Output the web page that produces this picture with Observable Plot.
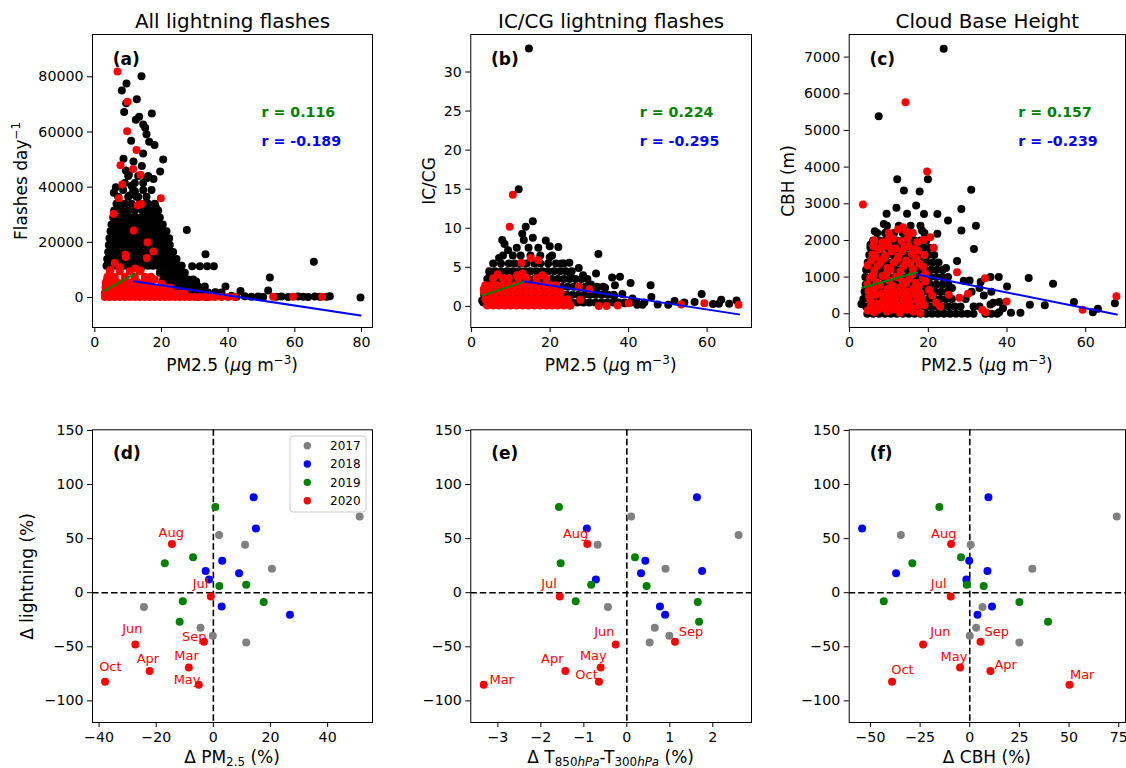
<!DOCTYPE html>
<html><head><meta charset="utf-8">
<script src="https://cdn.jsdelivr.net/npm/d3@7"></script>
<script src="https://cdn.jsdelivr.net/npm/@observablehq/plot@0.6"></script>
<style>
body{margin:0;background:#fff;}
#fig{position:relative;width:1126px;height:768px;overflow:hidden;background:#fff;}
#fig svg{position:absolute;}
</style></head><body><div id="fig"></div><script>
// ---------------- DATA ----------------
const titles = ["All lightning flashes", "IC/CG lightning flashes", "Cloud Base Height"];
const panelLetters = ["(a)", "(b)", "(c)", "(d)", "(e)", "(f)"];
const rPre = ["0.116", "0.224", "0.157"];
const rPost = ["-0.189", "-0.295", "-0.239"];

// (a) daily flashes vs PM2.5  [PM2.5, flashes/day]  (scattered points)
const aBlack = [[14.0,80200],[9.5,77600],[8.1,75000],[12.6,71900],[9.4,70400],[8.8,67200],[17.1,66700],[12.3,64400],[13.3,65500],[14.5,62700],[15.1,61500],[15.5,59200],[10.9,56800],[16.3,56500],[17.9,55300],[14.5,52200],[8.6,50300],[20.5,50000],[11.6,49300],[14.1,47700],[19.6,45700],[9.3,46000],[10.2,44500],[15.5,43200],[17.6,43000],[6.3,40000],[5.7,38000],[11.0,40500],[12.0,38500],[10.4,37000],[13.0,36500],[18.3,32700],[17.9,31500],[16.6,30000],[9.2,31000],[12.5,33000],[14.8,34000],[7.4,33500],[15.6,28500],[27.6,24500],[5.3,23700],[5.4,19000],[4.1,13800],
[22.0,17000],[22.8,16600],[21.2,14500],[23.5,13000],[24.5,10500],[26.0,11500],[25.2,8500],[20.0,16500],[3.3,4200],[3.8,7000],[4.5,8200],[19.0,28000],[21.5,19500],
[33.2,15700],[29.2,11300],[31.5,11300],[33.7,11300],[35.7,11300],[65.7,13000],[30.4,5800],[39.2,4000],[52.5,7250],[43.7,2400],[52.0,2500],[36.2,1900],[32.0,2500],[29.0,1500],[35.0,800],[38.0,1000],[41.0,600],[42.5,300],[45.0,500],[47.0,300],[49.0,400],[50.5,200],[54.5,300],[56.0,400],[58.0,200],[61.0,400],[62.5,300],[64.0,200],[66.0,400],[67.5,300],[69.5,300],[70.5,500],[79.7,0],[31.0,300],[33.5,200],[27.0,700],[25.5,1500],[23.0,2500]];
// (a) dense core, listed row by row: [flashes/day, PM2.5 values]
const aBlackRows = [
  [44000, [10.0,13.0,16.0]],
  [41500, [9.0,12.0,14.5]],
  [39000, [8.5,11.5,14.5,17.0]],
  [36500, [7.0,10.0,12.5,15.5]],
  [34000, [6.5,9.0,11.0,13.5,16.0,18.0]],
  [31500, [5.8,8.0,10.0,12.0,14.2,15.6,17.0,19.0]],
  [29000, [5.5,6.9,8.3,9.7,11.1,12.5,13.9,15.3,16.7,18.1,19.5]],
  [26500, [5.0,6.4,7.8,9.2,10.6,12.0,13.4,14.8,16.2,17.6,19.0,20.4]],
  [24000, [4.7,6.1,7.5,8.9,10.3,11.7,13.1,14.5,15.9,17.3,18.7,20.1,21.5]],
  [21500, [4.4,5.8,7.2,8.6,10.0,11.4,12.8,14.2,15.6,17.0,18.4,19.8,21.2,22.3]],
  [19000, [4.2,5.6,7.0,8.4,9.8,11.2,12.6,14.0,15.4,16.8,18.2,19.6,21.0,22.5]],
  [16500, [4.0,5.4,6.8,8.2,9.6,11.0,12.4,13.8,15.2,16.6,18.0,19.4,20.8,22.2,23.5]],
  [14000, [3.7,5.1,6.5,7.9,9.3,10.7,12.1,13.5,14.9,16.3,17.7,19.1,20.5,21.9,23.3,24.5]],
  [11500, [3.5,4.9,6.3,7.7,9.1,10.5,11.9,13.3,14.7,16.1,17.5,18.9,20.3,21.7,23.1,24.5,26.0]],
  [9000, [19.5,21.0,22.5,24.0,25.5,27.0]],
  [6500, [20.5,22.0,23.5,25.0,26.5,28.0,29.5]],
  [4000, [22.0,23.5,25.0,26.5,28.0,29.5,31.0,33.0]],
  [1800, [24.0,26.0,28.0,30.0,32.0,34.0,36.0,38.0]]
];
const aRed = [[6.8,81900],[9.8,71000],[9.7,60300],[12.5,53500],[7.7,47900],[11.5,46600],[13.7,44500],[8.2,41000],[7.2,36000],[19.8,36000],[13.9,33900],[12.9,33400],[5.7,30300],[11.7,24300],[15.8,20000],[17.6,16700],[9.2,15500],[9.3,14700],[15.6,14300],[12.1,10500],[4.7,10000],[13.7,9800],[6.0,12500],[7.5,11000],[16.8,7500],[18.0,6500],[20.0,5000],
[53.5,300],[59.5,300],[68.2,300]];
const aRedRows = [
  [9500, [4.5,7.5,10.5,13.5]],
  [7500, [3.8,6.0,9.0,12.0,15.0]],
  [5500, [3.3,4.8,6.8,8.8,10.8,12.8,14.8,16.8]],
  [3500, [3.2,4.7,6.2,7.7,9.2,10.7,12.2,13.7,15.2,16.7,18.2,19.7,21.2,22.7]],
  [1500, [3.0,4.5,6.0,7.5,9.0,10.5,12.0,13.5,15.0,16.5,18.0,19.5,21.0,22.5,24.0,25.5,27.0]],
  [200, [3.0,4.5,6.0,7.5,9.0,10.5,12.0,13.5,15.0,16.5,18.0,19.5,21.0,22.5,24.0,25.5,27.0,28.5,30.0,31.5,33.0,34.5,36.0,38.0,40.0,42.0]]
];
const aGreenFit = [[2.7,2284],[12.0,8590]];
const aBlueFit = [[11.8,5910],[79.7,-6525]];

// (b) IC/CG ratio vs PM2.5
const bBlack = [[14.6,33.0],[12.0,15.0],[15.6,10.9],[13.8,10.2],[12.9,9.3],[13.3,8.5],[15.6,8.8],[7.8,8.5],[8.4,8.0],[9.3,7.2],[18.9,8.45],[19.9,7.7],[22.1,7.6],[32.3,6.7],[7.0,6.2],[19.9,6.3],[24.9,5.6],[22.9,5.5],[27.3,4.9],[4.6,4.2],[25.2,3.9],[28.4,4.0],[31.7,4.2],[35.8,3.7],[37.8,3.8],[40.5,3.0],[45.6,2.7],[31.9,2.3],[30.4,2.8],[45.8,1.2],[38.4,1.6],[36.3,1.3],[58.6,1.6],[51.7,0.7],[54.2,0.5],[56.8,0.55],[61.5,0.3],[63.6,0.85],[63.0,0.35],[65.6,0.35],[67.5,0.75],[50.1,0.2],[47.4,0.25],[42.2,0.2],[43.5,0.2],[2.7,0.75],[36.5,2.7],[34.0,2.4],[39.0,0.4],[41.0,1.0]];
const bBlackRows = [
  [7.5, [11.5,14.5,17.0]],
  [6.5, [8.0,10.5,12.5,15.0,17.5,20.5]],
  [5.5, [5.5,7.5,9.5,11.0,12.5,14.0,16.0,17.5,19.5,21.5,23.5]],
  [4.5, [4.5,6.0,7.5,9.0,10.5,12.0,13.5,15.0,16.5,18.0,19.5,21.0,22.5,24.0,25.5]],
  [3.5, [4.0,5.5,7.0,8.5,10.0,11.5,13.0,14.5,16.0,17.5,19.0,20.5,22.0,23.5,25.0,26.5,28.0,29.5]],
  [2.5, [3.5,5.0,6.5,8.0,9.5,11.0,12.5,14.0,15.5,17.0,18.5,20.0,21.5,23.0,24.5,26.0,27.5,29.0,30.5,32.0,33.5]],
  [1.5, [3.2,4.7,6.2,7.7,9.2,10.7,12.2,13.7,15.2,16.7,18.2,19.7,21.2,22.7,24.2,25.7,27.2,28.7,30.2,31.7,33.2,34.7,36.2]],
  [0.5, [3.0,4.5,6.0,7.5,9.0,10.5,12.0,13.5,15.0,16.5,18.0,19.5,21.0,22.5,24.0,25.5,27.0,28.5,30.0,31.5,33.0,34.5,36.0,37.5,39.0,40.5,42.0,44.0]]
];
const bRed = [[10.5,14.3],[9.7,10.2],[15.1,6.2],[17.0,5.9],[12.7,5.6],[11.6,4.0],[6.7,4.1],[27.3,2.5],[27.7,0.85],[30.0,2.2],[25.2,0.1],[32.4,0.05],[34.4,0.05],[37.2,0.1],[40.0,0.4],[53.4,0.25],[59.3,0.4],[68.0,0.2],[3.1,2.2],[18.0,4.0],[13.0,4.2]];
const bRedRows = [
  [3.6, [5.5,8.0,9.5,12.0,14.0,16.5,19.0]],
  [2.7, [3.5,5.0,6.5,8.0,9.5,11.0,12.5,14.0,15.5,17.0,18.5,20.0,21.5]],
  [1.8, [3.2,4.7,6.2,7.7,9.2,10.7,12.2,13.7,15.2,16.7,18.2,19.7,21.2,22.7]],
  [0.9, [3.5,5.0,6.5,8.0,9.5,11.0,12.5,14.0,15.5,17.0,18.5,20.0,21.5,23.0,24.5]],
  [0.1, [4.0,5.5,7.0,8.5,10.0,11.5,13.0,14.5,16.0,17.5,19.0,20.5,22.0,23.5,25.0]]
];
const bGreenFit = [[2.9,1.41],[13.5,3.2]];
const bBlueFit = [[13.5,3.2],[68.1,-1.02]];

// (c) cloud base height vs PM2.5
const cBlack = [[23.9,7227],[7.4,5390],[12.1,3670],[19.9,3670],[13.8,3360],[17.8,3335],[30.9,3380],[16.9,2950],[11.9,2890],[28.4,2855],[9.4,2730],[18.9,2720],[22.3,2720],[14.6,2730],[25.0,2545],[32.1,2400],[28.4,2270],[6.4,2250],[8.7,2450],[22.3,2180],[18.4,2270],[31.6,1770],[5.3,1880],[27.3,1440],[37.9,1000],[35.8,1000],[45.5,975],[51.7,820],[40.0,745],[30.5,910],[33.3,865],[34.1,500],[57.0,320],[67.4,290],[63.1,136],[61.8,45],[43.4,27],[45.8,245],[49.6,236],[38.0,320],[38.0,45],[35.8,255],[3.0,270],[29.0,900],[31.0,600],[33.0,700],[36.0,600],[36.5,300],[39.0,150],[41.0,30],[24.5,1250],[26.0,700],[29.5,400]];
const cBlackRows = [
  [2400, [9.5,12.5,15.5,18.0]],
  [2200, [7.0,9.0,11.3,13.5,16.0,19.0]],
  [2000, [6.0,7.5,9.0,10.5,12.0,13.5,15.0,16.5,18.0,19.5]],
  [1800, [5.3,6.8,8.3,9.8,11.3,12.8,14.3,15.8,17.3,18.8,20.3]],
  [1600, [5.0,6.5,8.0,9.5,11.0,12.5,14.0,15.5,17.0,18.5,20.0,21.5]],
  [1400, [4.6,6.1,7.6,9.1,10.6,12.1,13.6,15.1,16.6,18.1,19.6,21.1,22.6]],
  [1200, [4.2,5.7,7.2,8.7,10.2,11.7,13.2,14.7,16.2,17.7,19.2,20.7,22.2,23.7]],
  [1000, [4.0,5.5,7.0,8.5,10.0,11.5,13.0,14.5,16.0,17.5,19.0,20.5,22.0,23.5,25.0]],
  [800, [4.1,5.6,7.1,8.6,10.1,11.6,13.1,14.6,16.1,17.6,19.1,20.6,22.1,23.6,25.1]],
  [600, [3.8,5.3,6.8,8.3,9.8,11.3,12.8,14.3,15.8,17.3,18.8,20.3,21.8,23.3,24.8]],
  [400, [3.5,5.0,6.5,8.0,9.5,11.0,12.5,14.0,15.5,17.0,18.5,20.0,21.5,23.0,24.5,26.0]],
  [200, [4.2,5.7,7.2,8.7,10.2,11.7,13.2,14.7,16.2,17.7,19.2,20.7,22.2,23.7,25.2,26.7,28.2,31.5,33.0]],
  [0, [4.5,6.0,7.5,9.0,10.5,12.0,13.5,15.0,16.5,18.0,19.5,21.0,22.5,24.0,25.5,27.0,28.5,30.0,31.5,34.5,36.0,37.5]]
];
const cRed = [[14.2,5770],[3.4,2980],[19.7,3880],[13.6,2360],[14.4,2245],[9.8,2020],[20.5,2090],[21.4,1800],[27.3,1130],[34.4,970],[25.2,520],[27.9,435],[30.1,545],[39.9,335],[33.7,110],[34.6,45],[59.2,110],[67.8,480],[6.2,2000],[12.3,2300],[16.0,2200],[22.0,300],[23.0,200],[21.0,500],
[4.6,1320],[6.3,1180],[7.9,1420],[9.6,1250],[11.2,1390],[12.9,1150],[14.4,1450],[16.1,1220],[17.8,1360],[19.3,1100],
[5.2,980],[6.9,860],[8.4,1030],[10.1,900],[11.8,1010],[13.5,880],[15.2,960],[16.9,840],[18.6,1000],
[4.8,620],[6.4,700],[8.1,560],[9.7,680],[11.4,590],[13.0,720],[14.7,600],[16.3,690],[18.0,560],[20.2,650],
[5.3,360],[7.0,280],[8.6,420],[10.3,330],[12.0,250],[13.6,400],[15.3,300],[17.1,380],[19.0,240],
[4.6,90],[6.2,40],[7.8,150],[9.5,60],[11.1,120],[12.8,30],[14.5,110],[16.2,60],[18.0,20],
[5.8,1620],[7.4,1750],[9.0,1580],[10.7,1700],[12.4,1560],[14.0,1820],[15.8,1640],[17.4,1720],[19.0,1600],[8.3,1950],[11.0,2050],[13.2,1980],[18.8,2010],
[5.5,1450],[7.1,1300],[8.7,1500],[10.4,1200],[12.1,1480],[13.7,1300],[15.4,1380],[17.0,1500],[18.7,1280],
[4.5,800],[6.0,1050],[7.7,780],[9.3,1080],[11.0,760],[12.6,1000],[14.3,820],[16.0,1080],[17.6,760],[19.3,880],
[5.0,470],[6.6,520],[8.3,300],[9.9,500],[11.6,420],[13.3,540],[15.0,450],[16.7,520],[18.4,420],
[5.4,200],[7.1,100],[8.9,230],[10.6,150],[12.3,180],[14.0,220],[15.8,160],[17.5,230],
[6.6,1550],[8.2,1800],[9.9,1850],[11.7,1780],[13.4,1700],[15.0,1850],[16.6,1760],[6.0,1850],[10.0,2200],[14.8,2050],[17.2,1950]];
const cGreenFit = [[3.2,709],[17.2,1134]];
const cBlueFit = [[17.2,1072],[67.9,-19]];

// (d)-(f) monthly anomalies (%), Mar..Oct
const years = ["2017", "2018", "2019", "2020"];
const yearColors = ["gray", "blue", "green", "red"];
const months = ["Mar", "Apr", "May", "Jun", "Jul", "Aug", "Sep", "Oct"];
const dLightning = {
  "2017": [70.4, 53.4, 44.4, 22.2, -13.3, -32.4, -39.8, -46.0],
  "2018": [88.3, 59.3, 29.6, 20.1, 12.3, 17.9, -12.7, -20.4],
  "2019": [79.3, 32.7, 27.2, 6.2, 7.4, -8.0, -8.6, -26.9],
  "2020": [-85.2, -72.5, -69.1, -47.8, -3.4, 45.1, -45.4, -82.4]
};
const dPM = {
  "2017": [51.2, 2.0, 11.1, 20.5, -24.3, -4.5, -0.2, 11.5],
  "2018": [14.1, 14.9, 3.1, -2.7, -1.5, 9.0, 2.9, 26.8],
  "2019": [0.7, -7.1, -17.0, 2.1, 11.5, -10.7, 17.6, -11.8],
  "2020": [-5.1, -22.3, -8.6, -27.3, -0.9, -14.5, -3.3, -37.9]
};
const dT = {
  "2017": [0.10, 2.60, -0.68, 0.90, -0.44, 0.65, 0.99, 0.53],
  "2018": [1.63, -0.93, 0.43, 1.75, -0.72, 0.33, 0.77, 0.89],
  "2019": [-1.58, 0.19, -1.54, 0.46, -0.83, -1.19, 1.65, 1.68],
  "2020": [-3.33, -1.43, -0.61, -0.26, -1.56, -0.92, 1.12, -0.65]
};
const dCBH = {
  "2017": [74.0, -34.7, 0.5, 31.5, 6.4, 3.2, 0.0, 25.0],
  "2018": [9.4, -54.2, -0.3, 8.9, -1.7, -37.1, 11.2, 3.9],
  "2019": [-15.3, -4.4, -28.9, 7.0, -1.5, -43.3, 25.0, 39.4],
  "2020": [50.2, 10.4, -4.9, -23.5, -9.6, -9.4, 5.4, -39.1]
};

// ---------------- LAYOUT / STYLE ----------------
const FONT = "DejaVu Sans";
const fmt = d => d < 0 ? "\u2212" + Math.abs(d) : String(d);
const fig = document.getElementById("fig");
const cols = [
  {left: 0, width: 376, mL: 92, mR: 4},
  {left: 376, width: 376, mL: 94.3, mR: 1},
  {left: 752, width: 374, mL: 96.7, mR: 1}
];
const rows = [{top: 0, height: 384, mT: 34, mB: 57}, {top: 384, height: 384, mT: 45.3, mB: 46}];
// month-label offsets (px) per bottom panel
const labelOffsets = [
  {Mar: [-12.3, -29], Apr: [-1.7, -12.7], May: [-1.7, 12.7], Jun: [-3, -15.7], Jul: [-10.3, -13], Aug: [-0.7, -11.3], Sep: [-9.7, -5.3], Oct: [5.3, -15.3]},
  {Mar: [18, -4.7], Apr: [-13, -12.3], May: [-7.3, -11.7], Jun: [-11.3, -12.7], Jul: [-10.7, -12.7], Aug: [-11.7, -10], Sep: [16, -10.3], Oct: [-12.3, -7]},
  {Mar: [12.7, -9.7], Apr: [15.3, -6.7], May: [-6, -10.7], Jun: [17.3, -12.7], Jul: [-12, -12.7], Aug: [-7.3, -9.7], Sep: [16.3, -10.3], Oct: [10.3, -12.3]}
];

const toObj = a => a.map(([x, y]) => ({x, y}));
const fromRows = rs => rs.flatMap(([y, xs]) => xs.map(x => ({x, y})));

function place(svg, c, r) {
  svg.style.left = c.left + "px";
  svg.style.top = r.top + "px";
  fig.appendChild(svg);
}

function richText(svg, x, y, segs, size, rotate) {
  const t = d3.select(svg).append("text")
    .attr("font-family", FONT).attr("font-size", size)
    .attr("text-anchor", "middle").attr("fill", "black")
    .attr("transform", rotate ? `translate(${x},${y}) rotate(-90)` : `translate(${x},${y})`);
  let shift = 0;
  for (const s of segs) {
    const ts = t.append("tspan").text(s.t);
    const target = s.sup ? -0.42 * size : s.sub ? 0.22 * size : 0;
    if (target !== shift) ts.attr("dy", target - shift);
    shift = target;
    if (s.sup || s.sub) ts.attr("font-size", size * 0.7);
    if (s.it) ts.attr("font-style", "italic");
  }
}

function basePlot(c, r, xOpt, yOpt, marks) {
  return Plot.plot({
    width: c.width, height: r.height,
    marginLeft: c.mL, marginRight: c.mR, marginTop: r.mT, marginBottom: r.mB,
    style: {fontFamily: FONT, fontSize: "14.2px", color: "black", background: "transparent", overflow: "visible"},
    x: {...xOpt, tickSize: 5, tickPadding: 4, tickFormat: fmt, label: null},
    y: {...yOpt, tickSize: 5, tickPadding: 4, tickFormat: fmt, label: null},
    marks
  });
}

// ---------------- TOP ROW ----------------
const topCfg = [
  {black: toObj(aBlack).concat(fromRows(aBlackRows)), red: toObj(aRed).concat(fromRows(aRedRows)), g: aGreenFit, b: aBlueFit, xd: [-0.7, 83.3], yd: [-10870, 95330], xt: [0, 20, 40, 60, 80], yt: [0, 20000, 40000, 60000, 80000]},
  {black: toObj(bBlack).concat(fromRows(bBlackRows)), red: toObj(bRed).concat(fromRows(bRedRows)), g: bGreenFit, b: bBlueFit, xd: [-0.2, 71.3], yd: [-2.7, 34.8], xt: [0, 20, 40, 60], yt: [0, 5, 10, 15, 20, 25, 30]},
  {black: toObj(cBlack).concat(fromRows(cBlackRows)), red: toObj(cRed), g: cGreenFit, b: cBlueFit, xd: [-0.1, 70.1], yd: [-374, 7617], xt: [0, 20, 40, 60], yt: [0, 1000, 2000, 3000, 4000, 5000, 6000, 7000]}
];
topCfg.forEach((p, i) => {
  const c = cols[i], r = rows[0];
  const svg = basePlot(c, r, {domain: p.xd, ticks: p.xt}, {domain: p.yd, ticks: p.yt}, [
    Plot.dot(p.black, {x: "x", y: "y", r: 4, fill: "black"}),
    Plot.dot(p.red, {x: "x", y: "y", r: 4, fill: "red"}),
    Plot.line(toObj(p.g), {x: "x", y: "y", stroke: "green", strokeWidth: 2}),
    Plot.line(toObj(p.b), {x: "x", y: "y", stroke: "blue", strokeWidth: 2}),
    Plot.frame({stroke: "black", strokeWidth: 1}),
    Plot.text([titles[i]], {frameAnchor: "top", dy: -7, lineAnchor: "bottom", fontSize: 19.9}),
    Plot.text([panelLetters[i]], {frameAnchor: "top-left", dx: 20.3, dy: 24.7, lineAnchor: "middle", textAnchor: "start", fontSize: 17, fontWeight: "bold"}),
    Plot.text(["r = " + rPre[i]], {frameAnchor: "top-left", dx: 169, dy: 77.7, lineAnchor: "middle", textAnchor: "start", fontSize: 14.2, fontWeight: "bold", fill: "green"}),
    Plot.text(["r = " + rPost[i]], {frameAnchor: "top-left", dx: 169, dy: 106.7, lineAnchor: "middle", textAnchor: "start", fontSize: 14.2, fontWeight: "bold", fill: "blue"})
  ]);
  place(svg, c, r);
  const cx = c.mL + (c.width - c.mL - c.mR) / 2;
  richText(svg, cx, 371, [{t: "PM2.5 ("}, {t: "\u03bc", it: true}, {t: "g m"}, {t: "\u22123", sup: true}, {t: ")"}], 17, false);
  if (i === 0) richText(svg, 27.3, 181, [{t: "Flashes day"}, {t: "\u22121", sup: true}], 17, true);
  if (i === 1) richText(svg, 435 - c.left, 181, [{t: "IC/CG"}], 17, true);
  if (i === 2) richText(svg, 794.3 - c.left, 181, [{t: "CBH (m)"}], 17, true);
});

// ---------------- BOTTOM ROW ----------------
const bottomCfg = [
  {xs: dPM, xd: [-42.3, 55.7], xt: [-40, -20, 0, 20, 40]},
  {xs: dT, xd: [-3.63, 2.90], xt: [-3, -2, -1, 0, 1, 2]},
  {xs: dCBH, xd: [-60.7, 78.4], xt: [-50, -25, 0, 25, 50, 75]}
];
bottomCfg.forEach((p, i) => {
  const c = cols[i], r = rows[1];
  const rowsData = years.flatMap((yr, k) => months.map((m, j) => ({year: yr, color: yearColors[k], month: m, x: p.xs[yr][j], y: dLightning[yr][j]})));
  const pts2020 = rowsData.filter(d => d.year === "2020");
  const marks = [
    Plot.ruleX([0], {stroke: "black", strokeWidth: 1.6, strokeDasharray: "6.5,3"}),
    Plot.ruleY([0], {stroke: "black", strokeWidth: 1.6, strokeDasharray: "6.5,3"}),
    ...years.map(yr => Plot.dot(rowsData.filter(d => d.year === yr), {x: "x", y: "y", r: 4, fill: "color"})),
    ...pts2020.map(d => Plot.text([d], {x: "x", y: "y", text: "month", fill: "red", fontSize: 13, dx: labelOffsets[i][d.month][0], dy: labelOffsets[i][d.month][1], lineAnchor: "middle", textAnchor: "middle"})),
    Plot.frame({stroke: "black", strokeWidth: 1}),
    Plot.text([panelLetters[i + 3]], {frameAnchor: "top-left", dx: 20.5, dy: 23.4, lineAnchor: "middle", textAnchor: "start", fontSize: 17, fontWeight: "bold"})
  ];
  const svg = basePlot(c, r, {domain: p.xd, ticks: p.xt}, {domain: [-120, 150.6], ticks: [-100, -50, 0, 50, 100, 150]}, marks);
  place(svg, c, r);
  const cx = c.mL + (c.width - c.mL - c.mR) / 2;
  const by = 762.7 - r.top;
  if (i === 0) {
    richText(svg, cx, by, [{t: "\u0394 PM"}, {t: "2.5", sub: true}, {t: " (%)"}], 17, false);
    richText(svg, 32.5, 576.5 - r.top, [{t: "\u0394 lightning (%)"}], 17, true);
    // legend
    const g = d3.select(svg).append("g");
    g.append("rect").attr("x", 290).attr("y", 436 - r.top).attr("width", 76).attr("height", 76)
      .attr("rx", 3).attr("fill", "white").attr("fill-opacity", 0.8).attr("stroke", "#cccccc").attr("stroke-width", 1);
    years.forEach((yr, k) => {
      const yy = 445.7 + k * 18.33 - r.top;
      g.append("circle").attr("cx", 307.3).attr("cy", yy).attr("r", 3.7).attr("fill", yearColors[k]);
      g.append("text").attr("x", 330).attr("y", yy + 4.3).attr("text-anchor", "start").attr("font-family", FONT).attr("font-size", 12).attr("fill", "black").text(yr);
    });
  }
  if (i === 1) richText(svg, cx, by, [{t: "\u0394 T"}, {t: "850", sub: true}, {t: "hPa", sub: true, it: true}, {t: "-T"}, {t: "300", sub: true}, {t: "hPa", sub: true, it: true}, {t: " (%)"}], 17, false);
  if (i === 2) richText(svg, cx, by, [{t: "\u0394 CBH (%)"}], 17, false);
});
</script></body></html>
